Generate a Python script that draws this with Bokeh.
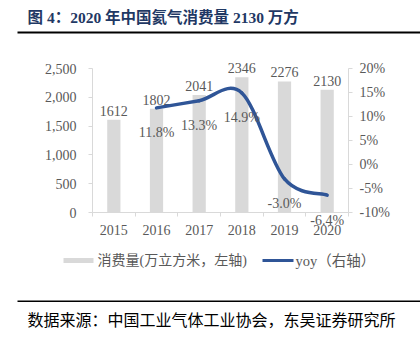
import numpy as np
from bokeh.plotting import figure
from bokeh.models import (Range1d, LinearAxis, FixedTicker, NumeralTickFormatter,
                          Label, BoxAnnotation)
from bokeh.core.properties import value
from bokeh.embed import file_html
from bokeh.resources import INLINE

# ---- data ----
years = ["2015", "2016", "2017", "2018", "2019", "2020"]
consumption = [1612, 1802, 2041, 2346, 2276, 2130]
yoy_years = ["2016", "2017", "2018", "2019", "2020"]
yoy = [11.8, 13.3, 14.9, -3.0, -6.4]
left_ticks = [0, 500, 1000, 1500, 2000, 2500]
right_ticks = [-10, -5, 0, 5, 10, 15, 20]
title_text = "图 4：2020 年中国氦气消费量 2130 万方"
legend_bar = "消费量(万立方米，左轴)"
legend_line = "yoy（右轴）"
source_text = "数据来源：中国工业气体工业协会，东吴证券研究所"

# ---- layout (pixel geometry of the plotting area inside a 420x340 canvas) ----
W, H = 420, 340
FL, FR, FT, FB = 92, 348, 68, 212
X_LO, X_HI = -0.5, len(years) - 0.5
L_LO, L_HI = left_ticks[0], left_ticks[-1]
R_LO, R_HI = right_ticks[0], right_ticks[-1]

SERIF_S = "Liberation Serif, Noto Sans CJK SC"
SERIF = value(SERIF_S)
CJK_S = "Noto Sans CJK SC"
GRAY_TXT = "#595959"
AXIS_C = "#d9d9d9"
BAR_C = "#d9d9d9"
LINE_C = "#2f5597"


def span_range(lo, hi, p_lo, p_hi, total):
    # map data [lo, hi] onto pixels [p_lo, p_hi] of a 0..total frame
    k = (hi - lo) / (p_hi - p_lo)
    return lo - p_lo * k, lo + (total - p_lo) * k


xr = span_range(X_LO, X_HI, FL, FR, W)
# y pixels counted from bottom
ylr = span_range(L_LO, L_HI, H - FB, H - FT, H)
yrr = span_range(R_LO, R_HI, H - FB, H - FT, H)

p = figure(width=W, height=H, output_backend="svg", toolbar_location=None,
           x_range=Range1d(*xr), y_range=Range1d(*ylr),
           min_border=0, min_border_left=0, min_border_right=0,
           min_border_top=0, min_border_bottom=0)
p.outline_line_color = None
p.xgrid.visible = False
p.ygrid.visible = False
p.background_fill_color = "white"
p.border_fill_color = "white"
p.extra_y_ranges = {"yoy": Range1d(*yrr)}

xs = list(range(len(years)))

# x axis
xa = p.xaxis[0]
xa.fixed_location = L_LO
xa.bounds = (X_LO, X_HI)
xa.ticker = FixedTicker(ticks=xs, minor_ticks=[i - 0.5 for i in range(len(years) + 1)])
xa.major_label_overrides = {i: y for i, y in enumerate(years)}
xa.major_tick_out = 0
xa.major_tick_in = 0
xa.minor_tick_out = 4
xa.minor_tick_in = 0
xa.minor_tick_line_color = AXIS_C
xa.axis_line_color = AXIS_C
xa.major_label_standoff = 8
xa.major_label_text_font = SERIF_S
xa.major_label_text_font_size = "14px"
xa.major_label_text_color = GRAY_TXT

# left axis
ya = p.yaxis[0]
ya.fixed_location = X_LO
ya.bounds = (L_LO, L_HI)
ya.ticker = FixedTicker(ticks=left_ticks)
ya.formatter = NumeralTickFormatter(format="0,0")
ya.major_tick_out = 4
ya.major_tick_in = 0
ya.minor_tick_line_color = None
ya.major_tick_line_color = AXIS_C
ya.axis_line_color = AXIS_C
ya.major_label_standoff = 12
ya.major_label_text_font = SERIF_S
ya.major_label_text_font_size = "14px"
ya.major_label_text_color = GRAY_TXT

# right axis
ra = LinearAxis(y_range_name="yoy", ticker=FixedTicker(ticks=right_ticks),
                fixed_location=X_HI, bounds=(R_LO, R_HI))
ra.major_label_overrides = {t: f"{t}%" for t in right_ticks}
ra.major_tick_out = 4
ra.major_tick_in = 0
ra.minor_tick_line_color = None
ra.major_tick_line_color = AXIS_C
ra.axis_line_color = AXIS_C
ra.major_label_standoff = 7
ra.major_label_text_font = SERIF_S
ra.major_label_text_font_size = "14px"
ra.major_label_text_color = GRAY_TXT
p.add_layout(ra, "right")

# bars
p.vbar(x=xs, top=consumption, width=0.31, fill_color=BAR_C, line_color=None)
p.text(x=xs, y=consumption, text=[str(v) for v in consumption],
       text_align="center", text_baseline="alphabetic", y_offset=-9,
       text_font=SERIF, text_font_size="14px", text_color=GRAY_TXT)

# smoothed yoy line (cubic bezier segments through data points)
yx = [years.index(y) for y in yoy_years]
P = list(zip(yx, yoy))
n = len(P)
x0, y0, x1, y1, cx0, cy0, cx1, cy1 = [], [], [], [], [], [], [], []
for i in range(n - 1):
    pa = P[i - 1] if i > 0 else P[i]
    pb = P[i]
    pc = P[i + 1]
    pd = P[i + 2] if i + 2 < n else P[i + 1]
    x0.append(pb[0]); y0.append(pb[1])
    x1.append(pc[0]); y1.append(pc[1])
    cx0.append(pb[0] + (pc[0] - pa[0]) / 6); cy0.append(pb[1] + (pc[1] - pa[1]) / 6)
    cx1.append(pc[0] - (pd[0] - pb[0]) / 6); cy1.append(pc[1] - (pd[1] - pb[1]) / 6)
p.bezier(x0=x0, y0=y0, x1=x1, y1=y1, cx0=cx0, cy0=cy0, cx1=cx1, cy1=cy1,
         y_range_name="yoy", line_color=LINE_C, line_width=3.5, line_cap="round")
p.text(x=yx, y=yoy, text=[f"{v:.1f}%" for v in yoy], y_range_name="yoy",
       text_align="center", text_baseline="alphabetic", y_offset=25,
       text_font=SERIF, text_font_size="14px", text_color=GRAY_TXT)


# ---- texts and rules outside the plotting area (screen units, frame = canvas) ----
def sx(X):
    return X


def sy(Y):
    return H - Y


def box(l, r, t, b, color):
    return BoxAnnotation(left=sx(l), right=sx(r), top=sy(t), bottom=sy(b),
                         left_units="screen", right_units="screen",
                         top_units="screen", bottom_units="screen",
                         fill_color=color, fill_alpha=1, line_color=None)


def label(X, Y, text, font, size, color, bold=False):
    return Label(x=sx(X), y=sy(Y), x_units="screen", y_units="screen",
                 text=text, text_baseline="middle", text_font=font,
                 text_font_size=size, text_color=color,
                 text_font_style="bold" if bold else "normal")


p.add_layout(label(27, 17, title_text, SERIF_S, "15.5px", "#1f3864", bold=True))
p.add_layout(box(17, 420, 31, 33, "black"))
p.add_layout(box(17, 420, 300, 301.5, "black"))
p.add_layout(label(27, 318, source_text, CJK_S, "16px", "black"))

# legend
p.add_layout(box(63, 93, 257.5, 262.5, BAR_C))
p.add_layout(label(97, 260, legend_bar, SERIF_S, "14px", GRAY_TXT))
p.add_layout(box(262, 293, 258.5, 261.5, LINE_C))
p.add_layout(label(295, 260, legend_line, SERIF_S, "14.5px", GRAY_TXT))

open("out.html", "w").write(file_html(p, INLINE))
